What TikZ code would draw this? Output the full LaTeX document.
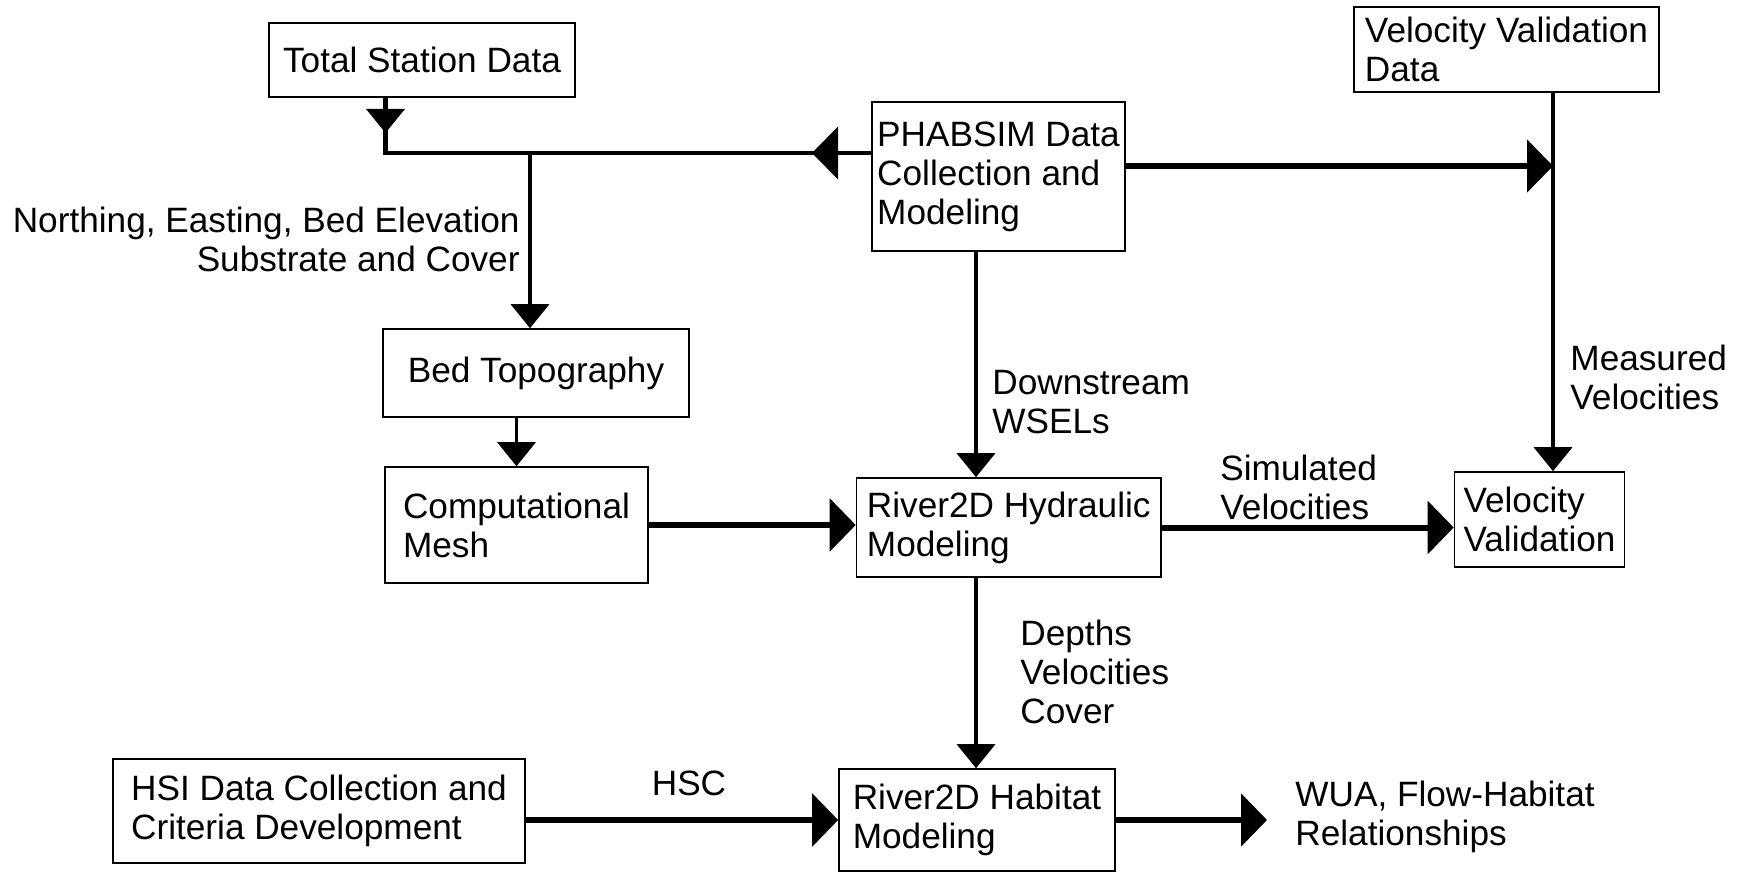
\documentclass[tikz,border=0pt]{standalone}
\usepackage{fontspec}
\setmainfont{Liberation Sans}
\usetikzlibrary{arrows.meta}
\begin{document}
\begin{tikzpicture}[x=0.5pt,y=-0.5pt]
    \tikzset{every node/.style = {font=\fontsize{17.6}{19.5}\selectfont}}
    \tikzset{block/.style = {draw,line width=0.8pt,align=left,inner sep=0pt}}
    \tikzset{lbl/.style = {inner sep=0pt}}
    \tikzset{vedge/.style = {line width=1.8pt,-{Triangle[length=12pt,width=19pt]}}}
    \tikzset{hedge/.style = {line width=3pt,-{Triangle[length=13pt,width=26pt]}}}
    \useasboundingbox (0,0) rectangle (1743,872);
    \node[block,minimum width=153pt,minimum height=37pt] (ts) at (422,60) {Total Station Data};
    \node[block,minimum width=126.5pt,minimum height=74.5pt] (ph) at (998.5,176.5) {PHABSIM Data\\Collection and\\Modeling};
    \node[block,minimum width=152.5pt,minimum height=42.5pt] (vvd) at (1506.5,49.5) {Velocity Validation\\Data};
    \node[block,minimum width=153pt,minimum height=44pt] (bt) at (536,373) {Bed Topography};
    \node[block,minimum width=131.5pt,minimum height=58pt] (cm) at (516.5,525) {Computational\\Mesh};
    \node[block,minimum width=152.25pt,minimum height=49.5pt] (hy) at (1008.75,527.5) {River2D Hydraulic\\Modeling};
    \node[block,minimum width=85pt,minimum height=47.5pt] (vv) at (1539.5,519.5) {Velocity\\Validation};
    \node[block,minimum width=206pt,minimum height=52pt] (hsi) at (319,811) {HSI Data Collection and\\Criteria Development};
    \node[block,minimum width=138pt,minimum height=51pt] (hab) at (977,820) {River2D Habitat\\Modeling};
    \node[lbl,anchor=east,align=right] (nel) at (520,239) {Northing, Easting, Bed Elevation\\Substrate and Cover};
    \node[lbl,anchor=west,align=left] (dsl) at (992,402.5) {Downstream\\WSELs};
    \node[lbl,anchor=west,align=left] (siml) at (1220,487.5) {Simulated\\Velocities};
    \node[lbl,anchor=west,align=left] (mvl) at (1570,377.5) {Measured\\Velocities};
    \node[lbl,anchor=west,align=left] (dvl) at (1020,672) {Depths\\Velocities\\Cover};
    \node[lbl] (hscl) at (689,783) {HSC};
    \node[lbl,anchor=west,align=left] (wual) at (1295,817) {WUA, Flow-Habitat\\Relationships};
    \coordinate (tsj) at (385.5,153);
    \coordinate (tsh) at (385.5,133);
    \coordinate (btj) at (530,153);
    \coordinate (phh) at (812,153);
    \coordinate (vj) at (1553,166);
    \coordinate (colb) at (976,0);
    \coordinate (wue) at (1267,820);
    \draw[line width=2.2pt] (ts.south -| tsj) -- (tsj) -- (ph.west |- tsj);
    \draw[vedge] (ts.south -| tsj) -- (tsh);
    \draw[hedge,line width=2.2pt] (ph.west |- tsj) -- (phh);
    \draw[vedge] (btj) -- (bt.north -| btj);
    \draw[vedge] (bt.south -| cm.north) -- (cm.north);
    \draw[hedge] (cm.east) -- (cm.east -| hy.west);
    \draw[vedge] (ph.south -| colb) -- (hy.north -| colb);
    \draw[hedge,line width=2.8pt] (ph.east |- vj) -- (vj);
    \draw[vedge] (vvd.south -| vj) -- (vv.north -| vj);
    \draw[hedge] (hy.east) -- (hy.east -| vv.west);
    \draw[vedge] (hy.south -| colb) -- (hab.north -| colb);
    \draw[hedge] (hsi.east |- hab.west) -- (hab.west);
    \draw[hedge] (hab.east) -- (wue);
\end{tikzpicture}
\end{document}
